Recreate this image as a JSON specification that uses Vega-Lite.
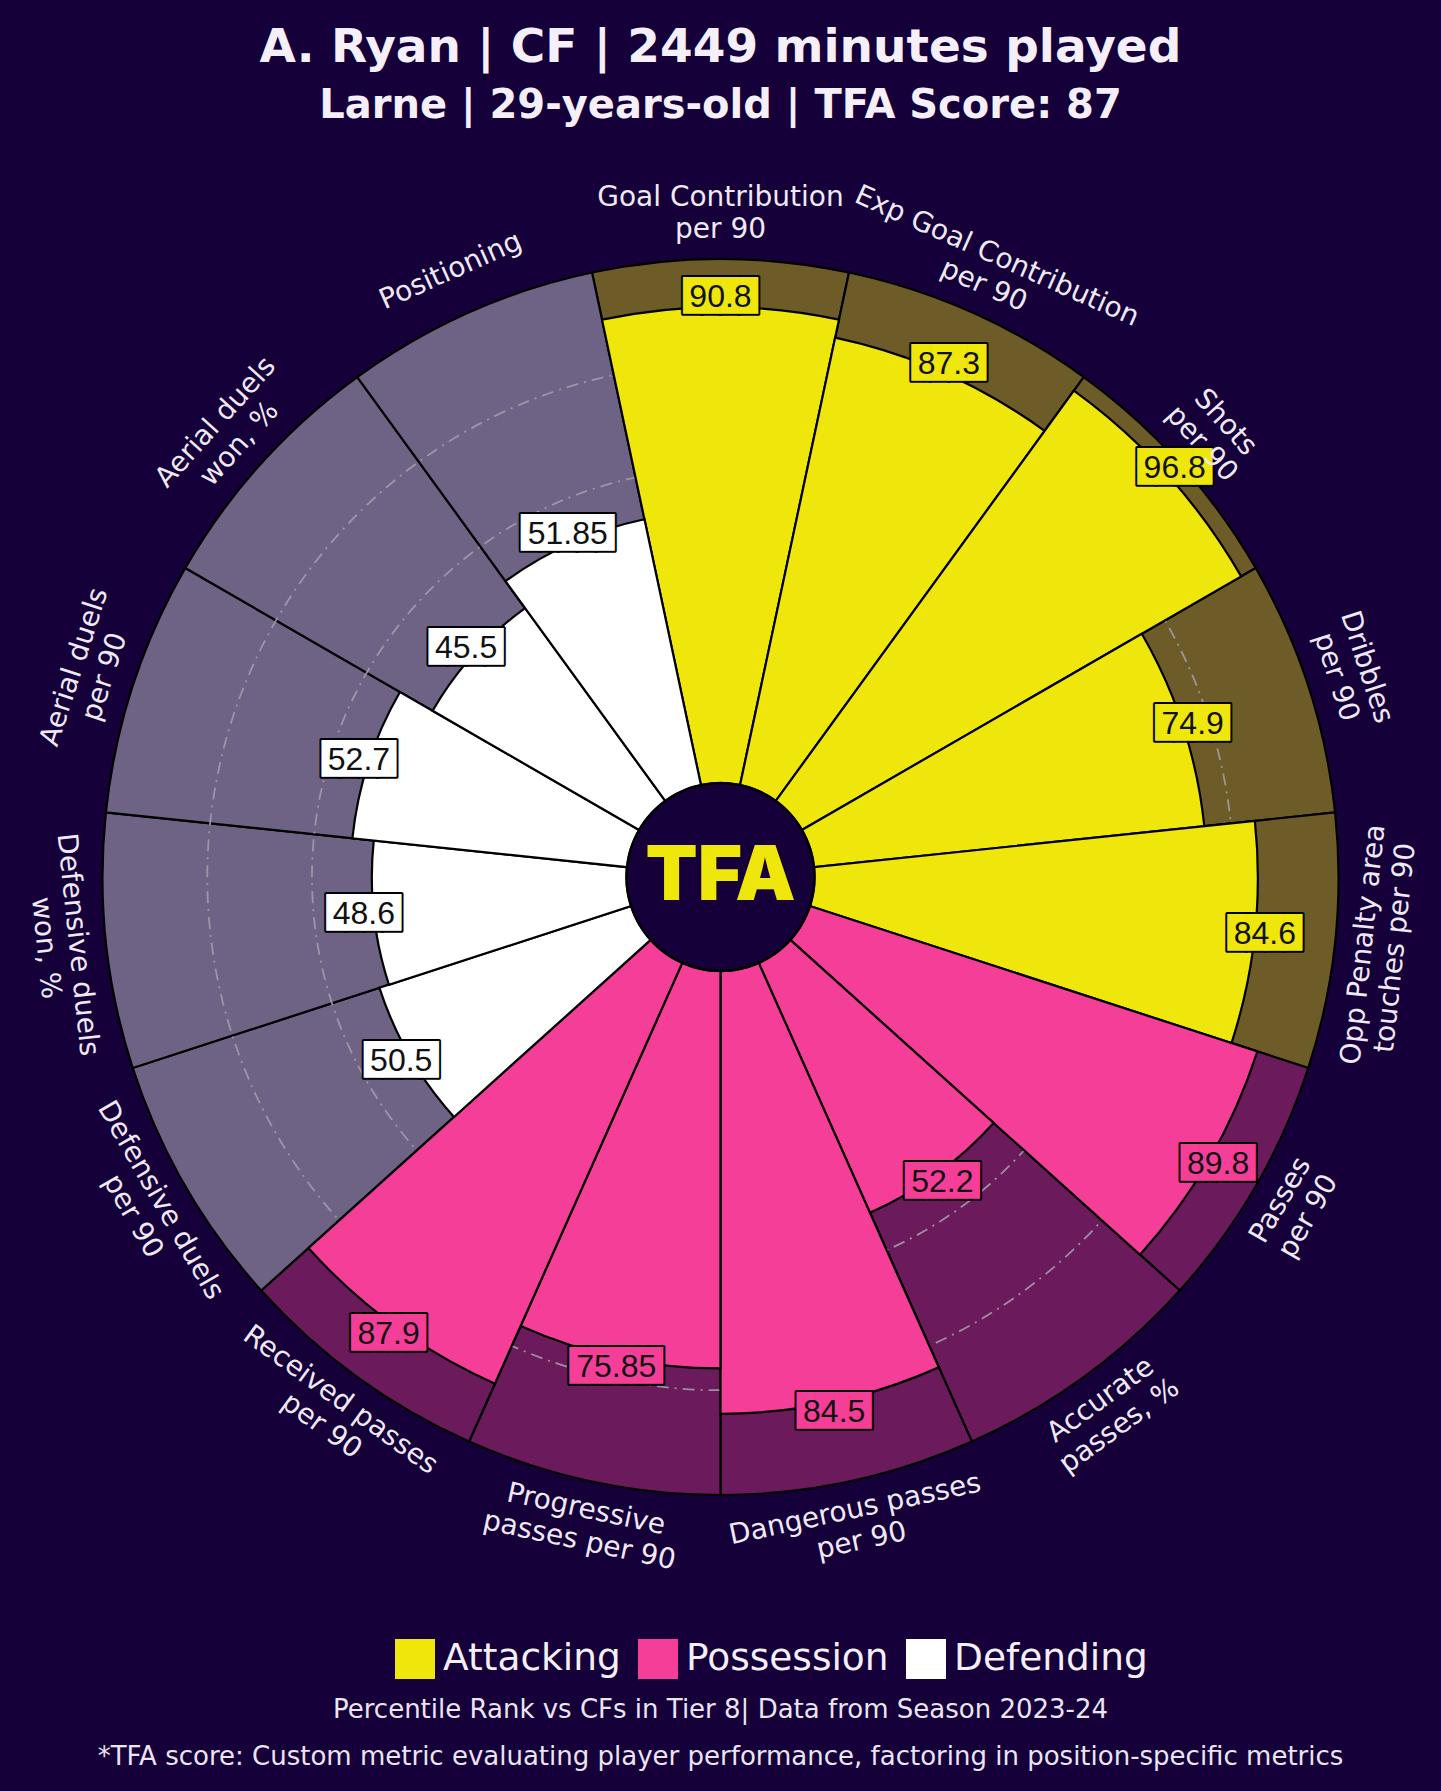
{
  "$schema": "https://vega.github.io/schema/vega-lite/v6.json",
  "background": "#150039",
  "padding": {"top": 24, "left": 0, "right": 0, "bottom": 22},
  "title": {
    "text": ["Percentile Rank vs CFs in Tier 8| Data from Season 2023-24", "*TFA score: Custom metric evaluating player performance, factoring in position-specific metrics"],
    "orient": "bottom",
    "anchor": "middle",
    "font": "DejaVu Sans",
    "fontSize": 26,
    "fontWeight": 400,
    "lineHeight": 47,
    "color": "#ebe4f3",
    "offset": 18
  },
  "datasets": {
    "metrics": [
      {"idx": 0, "metric": "Goal Contribution\nper 90", "category": "Attacking", "value": 90.8},
      {"idx": 1, "metric": "Exp Goal Contribution\nper 90", "category": "Attacking", "value": 87.3},
      {"idx": 2, "metric": "Shots\nper 90", "category": "Attacking", "value": 96.8},
      {"idx": 3, "metric": "Dribbles\nper 90", "category": "Attacking", "value": 74.9},
      {"idx": 4, "metric": "Opp Penalty area\ntouches per 90", "category": "Attacking", "value": 84.6},
      {"idx": 5, "metric": "Passes\nper 90", "category": "Possession", "value": 89.8},
      {"idx": 6, "metric": "Accurate\npasses, %", "category": "Possession", "value": 52.2},
      {"idx": 7, "metric": "Dangerous passes\nper 90", "category": "Possession", "value": 84.5},
      {"idx": 8, "metric": "Progressive\npasses per 90", "category": "Possession", "value": 75.85},
      {"idx": 9, "metric": "Received passes\nper 90", "category": "Possession", "value": 87.9},
      {"idx": 10, "metric": "Defensive duels\nper 90", "category": "Defending", "value": 50.5},
      {"idx": 11, "metric": "Defensive duels\nwon, %", "category": "Defending", "value": 48.6},
      {"idx": 12, "metric": "Aerial duels\nper 90", "category": "Defending", "value": 52.7},
      {"idx": 13, "metric": "Aerial duels\nwon, %", "category": "Defending", "value": 45.5},
      {"idx": 14, "metric": "Positioning", "category": "Defending", "value": 51.85}
    ],
    "grid": [{"g": 20}, {"g": 40}, {"g": 60}, {"g": 80}],
    "logo": [{"logo": "TFA"}]
  },
  "vconcat": [
    {
      "title": {
        "text": "A. Ryan | CF | 2449 minutes played",
        "subtitle": "Larne | 29-years-old | TFA Score: 87",
        "anchor": "middle",
        "font": "DejaVu Sans",
        "fontSize": 47,
        "fontWeight": 700,
        "color": "#f4eff9",
        "subtitleFont": "DejaVu Sans",
        "subtitleFontSize": 40,
        "subtitleFontWeight": 700,
        "subtitleColor": "#f4eff9",
        "subtitlePadding": 14,
        "offset": 24
      },
      "width": 1441,
      "height": 1452,
      "layer": [
        {
          "data": {"name": "metrics"},
          "mark": {"type": "arc", "stroke": "#000000", "strokeWidth": 2.2},
          "encoding": {
            "theta": {"field": "idx", "type": "ordinal", "scale": {"type": "band", "paddingInner": 0, "paddingOuter": 0, "range": [-0.20944, 6.07375]}},
            "radius": {"datum": 100, "type": "quantitative", "stack": null, "scale": {"type": "linear", "domain": [0, 100], "range": [94, 618], "zero": true, "nice": false}},
            "fill": {"field": "category", "type": "nominal", "scale": {"domain": ["Defending", "Attacking", "Possession"], "range": ["#6e6285", "#6d5b28", "#6b1a5c"]}, "legend": null}
          }
        },
        {
          "data": {"name": "grid"},
          "mark": {"type": "arc", "theta": 0, "theta2": 6.2832, "filled": false, "fill": null, "stroke": "#a19ca8", "strokeWidth": 1.8, "strokeDash": [12, 6, 2, 6], "opacity": 0.9},
          "encoding": {
            "radius": {"field": "g", "type": "quantitative", "stack": null}
          }
        },
        {
          "data": {"name": "metrics"},
          "mark": {"type": "arc", "stroke": "#000000", "strokeWidth": 2.2},
          "encoding": {
            "theta": {"field": "idx", "type": "ordinal"},
            "radius": {"field": "value", "type": "quantitative", "stack": null},
            "color": {
              "field": "category", "type": "nominal",
              "scale": {"domain": ["Attacking", "Possession", "Defending"], "range": ["#efe70c", "#f53e97", "#ffffff"]},
              "legend": {
                "orient": "none", "legendX": 395, "legendY": 1488, "direction": "horizontal", "title": null,
                "symbolType": "square", "symbolSize": 1600, "symbolStrokeWidth": 0, "symbolOpacity": 1,
                "labelFont": "DejaVu Sans", "labelFontSize": 37.5, "labelColor": "#f4eff9", "labelOffset": 8, "labelLimit": 0,
                "columnPadding": 17, "gridAlign": "none", "padding": 0
              }
            }
          }
        },
        {
          "data": {"name": "logo"},
          "mark": {"type": "point", "shape": "circle", "size": 35344, "filled": true, "fill": "#150039", "stroke": "#000000", "strokeWidth": 2.5, "opacity": 1}
        },
        {
          "data": {"name": "logo"},
          "mark": {"type": "text", "font": "Inter", "fontWeight": 900, "fontSize": 76, "color": "#efe70c", "align": "center", "baseline": "middle"},
          "encoding": {"text": {"field": "logo"}}
        },
        {
          "data": {"name": "metrics"},
          "mark": {"type": "text", "font": "DejaVu Sans Mono", "fontSize": 31, "radiusOffset": 10, "align": "center", "baseline": "middle", "fill": "#000000", "stroke": "#000000", "strokeWidth": 4, "strokeJoin": "round"},
          "encoding": {
            "theta": {"field": "idx", "type": "ordinal"},
            "radius": {"field": "value", "type": "quantitative", "stack": null},
            "text": {"condition": {"test": "length(toString(datum.value)) > 4", "value": "█████"}, "value": "████"}
          }
        },
        {
          "data": {"name": "metrics"},
          "mark": {"type": "text", "font": "DejaVu Sans Mono", "fontSize": 31, "radiusOffset": 10, "align": "center", "baseline": "middle"},
          "encoding": {
            "theta": {"field": "idx", "type": "ordinal"},
            "radius": {"field": "value", "type": "quantitative", "stack": null},
            "color": {"field": "category", "type": "nominal"},
            "text": {"condition": {"test": "length(toString(datum.value)) > 4", "value": "█████"}, "value": "████"}
          }
        },
        {
          "data": {"name": "metrics"},
          "mark": {"type": "text", "font": "Liberation Sans", "fontSize": 32, "radiusOffset": 10, "align": "center", "baseline": "middle", "color": "#111111"},
          "encoding": {
            "theta": {"field": "idx", "type": "ordinal"},
            "radius": {"field": "value", "type": "quantitative", "stack": null},
            "text": {"field": "value", "type": "quantitative"}
          }
        },
        {
          "data": {"name": "metrics"},
          "transform": [{"filter": "indexof(datum.metric, '\\n') >= 0"}],
          "mark": {"type": "text", "font": "DejaVu Sans", "fontSize": 28, "lineHeight": 32, "lineBreak": "\n", "radiusOffset": 45, "dy": -16, "align": "center", "baseline": "middle", "color": "#efe9f6"},
          "encoding": {
            "theta": {"field": "idx", "type": "ordinal"},
            "radius": {"datum": 100, "type": "quantitative", "stack": null},
            "angle": {"field": "idx", "type": "quantitative", "scale": {"domain": [0, 3, 4, 11, 12, 14], "range": [0, 72, -84, 84, -72, -24], "zero": false, "nice": false}, "legend": null},
            "text": {"field": "metric", "type": "nominal"}
          }
        },
        {
          "data": {"name": "metrics"},
          "transform": [{"filter": "indexof(datum.metric, '\\n') < 0"}],
          "mark": {"type": "text", "font": "DejaVu Sans", "fontSize": 28, "radiusOffset": 45, "align": "center", "baseline": "middle", "color": "#efe9f6"},
          "encoding": {
            "theta": {"field": "idx", "type": "ordinal"},
            "radius": {"datum": 100, "type": "quantitative", "stack": null},
            "angle": {"field": "idx", "type": "quantitative"},
            "text": {"field": "metric", "type": "nominal"}
          }
        }
      ]
    }
  ],
  "config": {
    "view": {"stroke": null},
    "font": "DejaVu Sans"
  }
}
